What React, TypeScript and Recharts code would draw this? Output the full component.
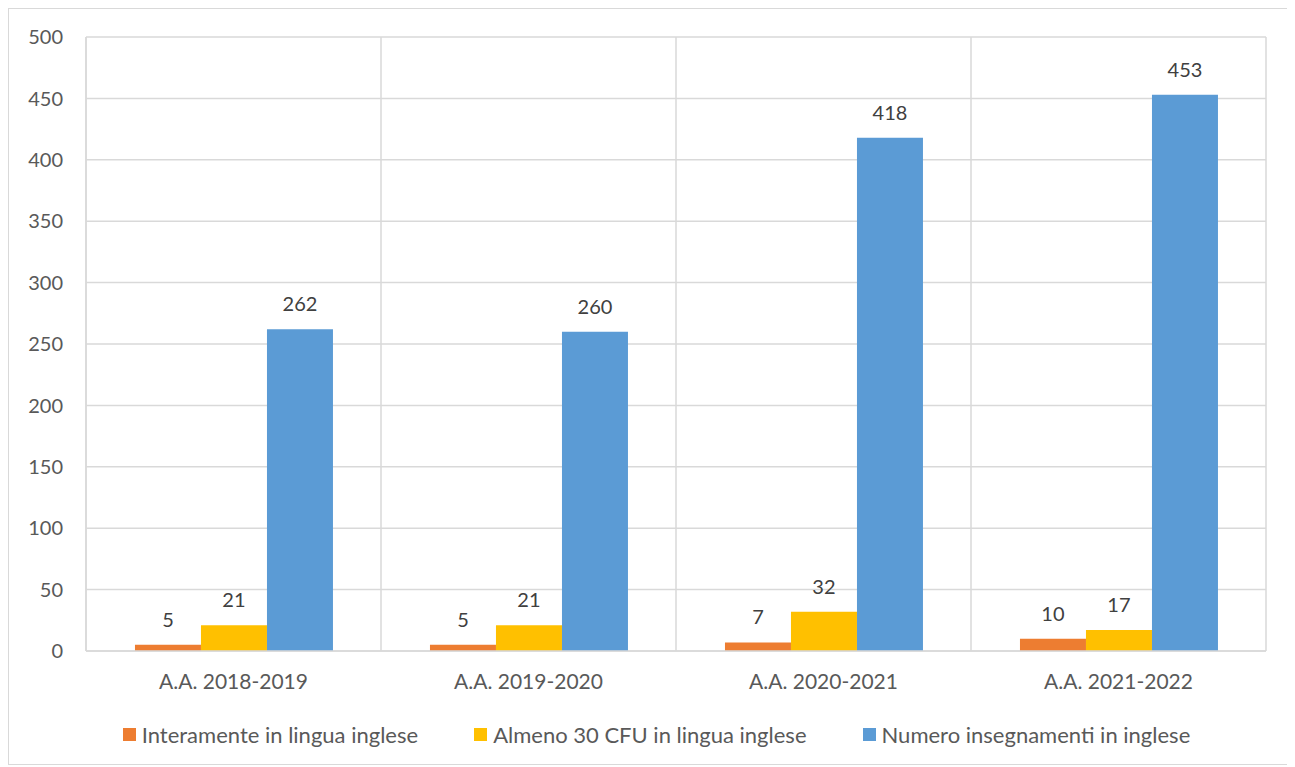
import { Bar, BarChart, CartesianGrid, LabelList, Legend, XAxis, YAxis } from 'recharts'

const categories = ['A.A. 2018-2019', 'A.A. 2019-2020', 'A.A. 2020-2021', 'A.A. 2021-2022']
const interamente = [5, 5, 7, 10]
const almeno30 = [21, 21, 32, 17]
const insegnamenti = [262, 260, 418, 453]
const yTicks = [0, 50, 100, 150, 200, 250, 300, 350, 400, 450, 500]

const seriesNames = ['Interamente in lingua inglese', 'Almeno 30 CFU in lingua inglese', 'Numero insegnamenti in inglese']
const seriesKeys = ['interamente', 'almeno30', 'insegnamenti']
const seriesColors = ['#ED7D31', '#FFC000', '#5B9BD5']

const data = categories.map((name, i) => ({
  name,
  interamente: interamente[i],
  almeno30: almeno30[i],
  insegnamenti: insegnamenti[i],
}))

const FONT = 'Lato, "Liberation Sans", sans-serif'
const GRID = '#d9d9d9'

function LegendContent() {
  return (
    <div
      style={{
        display: 'flex',
        justifyContent: 'center',
        alignItems: 'center',
        gap: 56,
        height: 30,
        paddingLeft: 38,
        fontFamily: FONT,
        fontSize: 22,
        color: '#595959',
      }}
    >
      {seriesNames.map((label, i) => (
        <div key={label} style={{ display: 'flex', alignItems: 'center' }}>
          <span style={{ width: 13, height: 13, background: seriesColors[i], marginRight: 6 }} />
          <span>{label}</span>
        </div>
      ))}
    </div>
  )
}

function App() {
  return (
    <div
      style={{
        width: 1285,
        height: 755,
        border: `1px solid ${GRID}`,
        background: '#fff',
        fontFamily: FONT,
      }}
    >
      <BarChart
        width={1285}
        height={755}
        data={data}
        margin={{ top: 28, right: 28, bottom: 15, left: 0 }}
        barCategoryGap="16.6%"
        barGap={0}
      >
        <CartesianGrid
          stroke={GRID}
          strokeWidth={1.5}
          verticalCoordinatesGenerator={({ offset }: any) =>
            [...categories.map((_, i) => offset.left + (i * offset.width) / categories.length), offset.left + offset.width]
          }
        />
        <XAxis
          dataKey="name"
          axisLine={{ stroke: GRID, strokeWidth: 1.5 }}
          tickLine={false}
          tickSize={0}
          tickMargin={23}
          height={68}
          tick={{ fill: '#595959', fontSize: 21, fontFamily: FONT }}
        />
        <YAxis
          domain={[0, 500]}
          ticks={yTicks}
          width={77}
          axisLine={{ stroke: GRID, strokeWidth: 1.5 }}
          tickLine={false}
          tickSize={0}
          tickMargin={23}
          tick={{ fill: '#595959', fontSize: 20, fontFamily: FONT }}
        />
        <Legend verticalAlign="bottom" content={<LegendContent />} />
        {seriesKeys.map((key, i) => (
          <Bar key={key} dataKey={key} name={seriesNames[i]} fill={seriesColors[i]} isAnimationActive={false}>
            <LabelList dataKey={key} position="top" offset={18} fill="#404040" fontSize={20} fontFamily={FONT} />
          </Bar>
        ))}
      </BarChart>
    </div>
  )
}

export default App
